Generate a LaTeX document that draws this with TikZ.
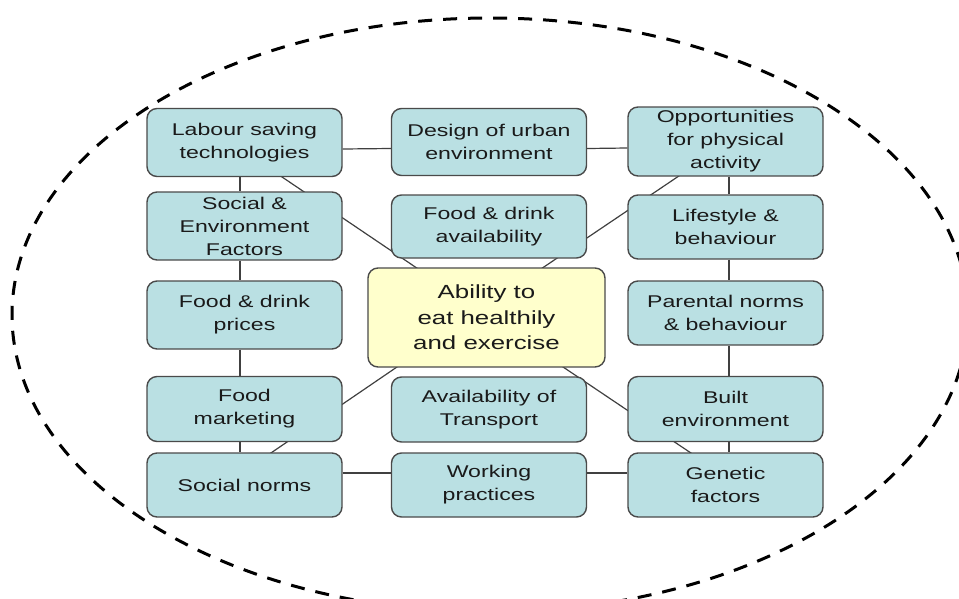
\documentclass[tikz,border=0pt]{standalone}
\usepackage{fontspec}
\setmainfont{Liberation Sans}[FakeStretch=1.36]
\usetikzlibrary{backgrounds}

\definecolor{boxfill}{HTML}{BAE0E3}
\definecolor{corefill}{HTML}{FFFFCC}
\definecolor{boxline}{HTML}{4A4A4A}
\definecolor{linkline}{HTML}{404040}
\definecolor{txt}{HTML}{1A1A1A}

\tikzset{
  factor/.style={draw=boxline, fill=boxfill, rounded corners=10pt, line width=1.4pt,
    minimum width=195pt, inner sep=0pt, align=center, text=txt,
    font=\fontsize{17}{23}\selectfont},
  core/.style={factor, fill=corefill, minimum width=237pt, minimum height=99pt,
    font=\fontsize{19}{25.7}\selectfont},
  link/.style={draw=linkline, line width=1.2pt},
  boundary/.style={draw=black, line width=3pt, dash pattern=on 14pt off 11pt},
}

\begin{document}
\begin{tikzpicture}[x=1pt, y=-1pt]
\useasboundingbox (0,0) rectangle (959,598);
\clip (0,0) rectangle (959,598);

% enclosing system boundary
\draw[boundary] (490,315) ellipse [x radius=478pt, y radius=297pt];

% factors
\node[factor, minimum height=68pt] (lab) at (244.5,142.5) {Labour saving\\technologies};
\node[factor, minimum height=67pt] (des) at (489,142) {Design of urban\\environment};
\node[factor, minimum height=69pt] (opp) at (725.5,141.5) {Opportunities\\for physical\\activity};

\node[factor, minimum height=68pt] (soc) at (244.5,226) {Social \&\\Environment\\Factors};
\node[factor, minimum height=63pt] (fav) at (489,226.5) {Food \& drink\\availability};
\node[factor, minimum height=64pt] (lif) at (725.5,227) {Lifestyle \&\\behaviour};

\node[factor, minimum height=68pt] (pri) at (244.5,315) {Food \& drink\\prices};
\node[core] (abl) at (486.5,317.5) {Ability to\\eat healthily\\and exercise};
\node[factor, minimum height=64pt] (par) at (725.5,313) {Parental norms\\\& behaviour};

\node[factor, minimum height=65pt] (mkt) at (244.5,409) {Food\\marketing};
\node[factor, minimum height=65pt] (trn) at (489,409.5) {Availability of\\Transport};
\node[factor, minimum height=65pt] (blt) at (725.5,409) {Built\\environment};

\node[factor, minimum height=64pt] (snm) at (244.5,485) {Social norms};
\node[factor, minimum height=64pt] (wrk) at (489,485) {Working\\practices};
\node[factor, minimum height=64pt] (gen) at (725.5,485) {Genetic\\factors};

% links, drawn behind the boxes
\begin{pgfonlayer}{background}
  % top and bottom rows
  \draw[link] ([yshift=-6.5pt]lab.east) -- ([yshift=-6.5pt]des.west);
  \draw[link] ([yshift=-6.5pt]des.east) -- ([yshift=-6.5pt]opp.west);
  \draw[link] ([yshift=12pt]snm.east) -- ([yshift=12pt]wrk.west);
  \draw[link] ([yshift=12pt]wrk.east) -- ([yshift=12pt]gen.west);
  % left column
  \draw[link] ([xshift=-4.5pt]lab.south) -- ([xshift=-4.5pt]soc.north);
  \draw[link] ([xshift=-4.5pt]soc.south) -- ([xshift=-4.5pt]pri.north);
  \draw[link] ([xshift=-4.5pt]pri.south) -- ([xshift=-4.5pt]mkt.north);
  \draw[link] ([xshift=-4.5pt]mkt.south) -- ([xshift=-4.5pt]snm.north);
  % right column
  \draw[link] ([xshift=3.5pt]opp.south) -- ([xshift=3.5pt]lif.north);
  \draw[link] ([xshift=3.5pt]lif.south) -- ([xshift=3.5pt]par.north);
  \draw[link] ([xshift=3.5pt]par.south) -- ([xshift=3.5pt]blt.north);
  \draw[link] ([xshift=3.5pt]blt.south) -- ([xshift=3.5pt]gen.north);
  % diagonals into the central box
  \draw[link] ([xshift=-13.5pt]lab.center) -- ([xshift=3.5pt]abl.center);
  \draw[link] ([xshift=4.5pt]opp.center) -- ([xshift=-17.5pt]abl.center);
  \draw[link] ([xshift=-20.5pt]snm.center) -- ([xshift=-17pt]abl.center);
  \draw[link] ([xshift=13pt]gen.center) -- ([xshift=3pt]abl.center);
\end{pgfonlayer}
\end{tikzpicture}
\end{document}
